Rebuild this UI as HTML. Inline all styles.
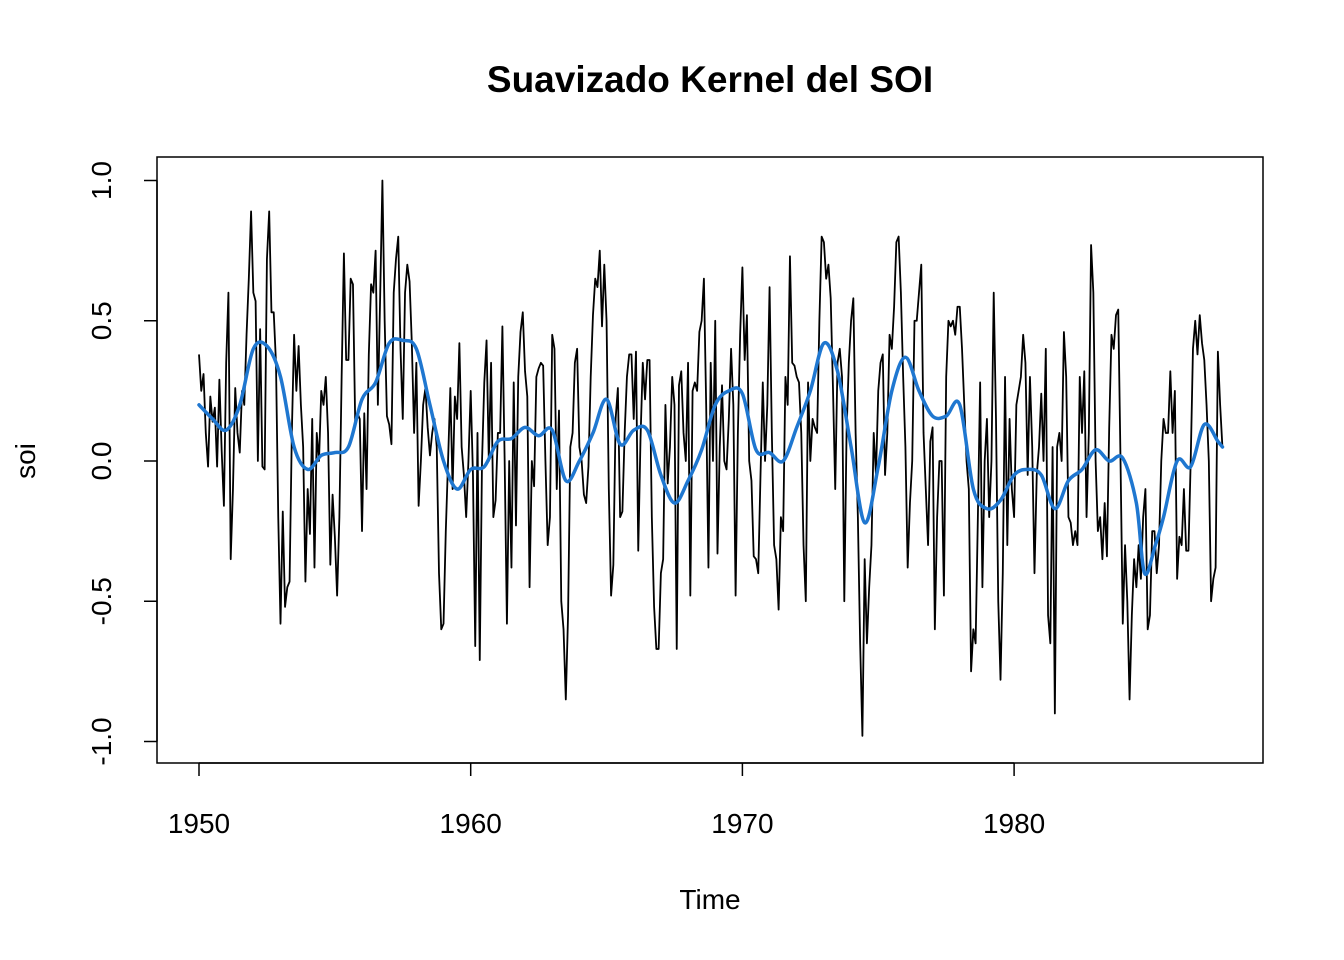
<!DOCTYPE html>
<html><head><meta charset="utf-8"><style>
body{margin:0;background:#fff;}
svg{display:block;font-family:"Liberation Sans",Arial,sans-serif;}
</style></head><body>
<svg id="chart" width="1344" height="960" viewBox="0 0 1344 960" xmlns="http://www.w3.org/2000/svg">
<rect width="1344" height="960" fill="#fff"/>
<text x="710" y="92" text-anchor="middle" font-size="37" font-weight="bold">Suavizado Kernel del SOI</text>
<rect x="157" y="157" width="1106" height="606" fill="none" stroke="#000" stroke-width="1.5"/>
<g id="xaxis"></g>
<g id="yaxis"></g>
<text x="710" y="909" text-anchor="middle" font-size="28">Time</text>
<text transform="translate(35,461) rotate(-90)" text-anchor="middle" font-size="28">soi</text>
<g id="series"></g>
</svg>
<script>
const startYear = 1950;
const soiValues = [
0.38,0.25,0.31,0.1,-0.02,0.23,0.14,0.19,-0.02,0.29,0.04,-0.16,
0.35,0.6,-0.35,-0.1,0.26,0.1,0.03,0.25,0.2,0.45,0.65,0.89,
0.6,0.57,0.0,0.47,-0.02,-0.03,0.72,0.89,0.53,0.53,0.35,-0.2,
-0.58,-0.18,-0.52,-0.45,-0.43,0.1,0.45,0.25,0.41,0.2,0.05,-0.43,
-0.1,-0.26,0.15,-0.38,0.1,0.0,0.25,0.2,0.3,0.1,-0.37,-0.12,
-0.27,-0.48,-0.2,0.3,0.74,0.36,0.36,0.65,0.63,0.13,0.17,0.15,
-0.25,0.17,-0.1,0.38,0.63,0.6,0.75,0.2,0.58,1.0,0.5,0.16,
0.13,0.06,0.6,0.72,0.8,0.4,0.15,0.6,0.7,0.64,0.42,0.1,
0.35,-0.16,0.0,0.2,0.26,0.12,0.02,0.1,0.15,0.05,-0.4,-0.6,
-0.58,-0.25,0.0,0.26,-0.1,0.23,0.15,0.42,0.05,-0.05,-0.2,0.0,
0.25,-0.05,-0.66,0.1,-0.71,0.0,0.28,0.43,0.0,0.35,-0.2,-0.14,
0.1,0.1,0.48,0.0,-0.58,0.0,-0.38,0.28,-0.23,0.3,0.46,0.53,
0.32,0.23,-0.45,0.0,-0.09,0.3,0.33,0.35,0.34,0.0,-0.3,-0.2,
0.45,0.4,-0.1,0.18,-0.5,-0.6,-0.85,-0.55,0.05,0.1,0.35,0.4,
0.05,0.0,-0.12,-0.15,-0.02,0.3,0.52,0.65,0.62,0.75,0.48,0.7,
0.5,-0.1,-0.48,-0.37,0.15,0.26,-0.2,-0.18,0.1,0.3,0.38,0.38,
0.15,0.39,-0.32,0.08,0.35,0.22,0.36,0.36,-0.2,-0.52,-0.67,-0.67,
-0.4,-0.35,0.2,-0.08,0.05,0.3,0.2,-0.67,0.27,0.32,0.1,0.0,
0.35,-0.48,0.25,0.28,0.25,0.46,0.5,0.65,0.2,-0.38,0.35,0.0,
0.5,-0.33,0.05,0.27,0.0,-0.03,0.15,0.4,0.2,-0.48,0.1,0.45,
0.69,0.36,0.52,0.0,-0.07,-0.34,-0.35,-0.4,-0.05,0.28,0.0,0.2,
0.62,0.1,-0.3,-0.35,-0.53,-0.2,-0.25,0.3,0.2,0.73,0.35,0.34,
0.3,0.28,0.1,-0.3,-0.5,0.28,0.0,0.15,0.12,0.1,0.5,0.8,
0.78,0.65,0.7,0.58,0.26,-0.1,0.35,0.4,0.3,-0.5,0.1,0.35,
0.5,0.58,0.1,-0.2,-0.65,-0.98,-0.35,-0.65,-0.45,-0.3,0.1,-0.05,
0.25,0.35,0.38,-0.05,0.1,0.45,0.4,0.55,0.78,0.8,0.6,0.3,
0.05,-0.38,-0.15,0.0,0.5,0.5,0.6,0.7,0.1,-0.1,-0.3,0.07,
0.12,-0.6,-0.2,0.0,0.0,-0.48,0.3,0.5,0.48,0.5,0.45,0.55,
0.55,0.4,0.2,0.0,-0.1,-0.75,-0.6,-0.65,-0.2,0.28,-0.45,0.0,
0.15,-0.2,0.0,0.6,0.15,-0.5,-0.78,-0.4,0.3,-0.3,0.15,-0.1,
-0.2,0.2,0.25,0.3,0.45,0.35,-0.05,0.3,0.05,-0.4,-0.05,0.05,
0.24,0.0,0.4,-0.55,-0.65,0.05,-0.9,0.05,0.1,0.0,0.46,0.3,
-0.2,-0.22,-0.3,-0.25,-0.3,0.3,0.1,0.32,-0.2,0.1,0.77,0.6,
0.0,-0.25,-0.2,-0.35,-0.15,-0.34,0.12,0.45,0.4,0.52,0.54,0.0,
-0.58,-0.3,-0.5,-0.85,-0.55,-0.35,-0.45,-0.3,-0.42,-0.2,-0.1,-0.6,
-0.55,-0.25,-0.25,-0.4,-0.3,0.0,0.15,0.1,0.1,0.32,0.1,0.25,
-0.42,-0.27,-0.3,-0.1,-0.32,-0.32,0.0,0.4,0.5,0.38,0.52,0.42,
0.36,0.2,0.0,-0.5,-0.42,-0.38,0.39,0.2,0.05
];
const smoothTimes = [1950,1950.5,1951,1951.5,1952,1952.5,1953,1953.5,1954,1954.5,1955,1955.5,1956,1956.5,1957,1957.5,1958,1958.5,1959,1959.5,1960,1960.5,1961,1961.5,1962,1962.5,1963,1963.5,1964,1964.5,1965,1965.5,1966,1966.5,1967,1967.5,1968,1968.5,1969,1969.5,1970,1970.5,1971,1971.5,1972,1972.5,1973,1973.5,1974,1974.5,1975,1975.5,1976,1976.5,1977,1977.5,1978,1978.5,1979,1979.5,1980,1980.5,1981,1981.5,1982,1982.5,1983,1983.5,1984,1984.5,1984.8,1985.2,1985.5,1986,1986.5,1987,1987.5,1987.67];
const smoothValues = [0.2,0.15,0.11,0.2,0.4,0.41,0.3,0.05,-0.03,0.02,0.03,0.05,0.22,0.28,0.42,0.43,0.4,0.2,0.0,-0.1,-0.03,-0.02,0.07,0.08,0.12,0.09,0.11,-0.07,0.0,0.1,0.22,0.06,0.11,0.11,-0.05,-0.15,-0.07,0.04,0.2,0.25,0.24,0.04,0.03,0.0,0.12,0.25,0.42,0.32,0.05,-0.22,-0.02,0.25,0.37,0.25,0.16,0.16,0.2,-0.1,-0.17,-0.14,-0.05,-0.03,-0.05,-0.17,-0.07,-0.03,0.04,0.0,0.01,-0.15,-0.4,-0.3,-0.2,0.0,-0.02,0.13,0.07,0.05];
const xTicks = [1950,1960,1970,1980];
const yTicks = [-1.0,-0.5,0.0,0.5,1.0];
const yTickLabels = ["-1.0","-0.5","0.0","0.5","1.0"];

const NS="http://www.w3.org/2000/svg";
function xScale(t){return 199 + (t-1950)*27.17;}
function yScale(v){return 461 - v*280.5;}
function mk(tag,attrs,parent){const e=document.createElementNS(NS,tag);for(const k in attrs)e.setAttribute(k,attrs[k]);parent.appendChild(e);return e;}

const xa=document.getElementById('xaxis');
mk('line',{x1:xScale(xTicks[0]),x2:xScale(xTicks[xTicks.length-1]),y1:763,y2:763,stroke:'#000','stroke-width':1.5},xa);
xTicks.forEach(t=>{
  const l=mk('line',{x1:xScale(t),x2:xScale(t),y1:763,y2:776,stroke:'#000','stroke-width':1.5},xa);
  
  
  const tx=mk('text',{x:xScale(t),y:833,'text-anchor':'middle','font-size':28},xa);
  tx.textContent=t;
  
  
});
const ya=document.getElementById('yaxis');
mk('line',{x1:157,x2:157,y1:yScale(1),y2:yScale(-1),stroke:'#000','stroke-width':1.5},ya);
yTicks.forEach((v,i)=>{
  const l=mk('line',{x1:144,x2:157,y1:yScale(v),y2:yScale(v),stroke:'#000','stroke-width':1.5},ya);
  
  
  const tx=mk('text',{transform:`translate(111,${yScale(v)}) rotate(-90)`,'text-anchor':'middle','font-size':28},ya);
  tx.textContent=yTickLabels[i];
  
  
});

const sg=document.getElementById('series');
const pts=soiValues.map((v,i)=>xScale(startYear+i/12).toFixed(2)+','+yScale(v).toFixed(2)).join(' ');
const raw=mk('polyline',{points:pts,fill:'none',stroke:'#000','stroke-width':1.8,'stroke-linejoin':'round'},sg);



const P=smoothTimes.map((t,i)=>[xScale(t),yScale(smoothValues[i])]);
let d='M'+P[0][0]+','+P[0][1];
for(let i=0;i<P.length-1;i++){
  const p0=P[Math.max(0,i-1)],p1=P[i],p2=P[i+1],p3=P[Math.min(P.length-1,i+2)];
  const c1=[p1[0]+(p2[0]-p0[0])/6,p1[1]+(p2[1]-p0[1])/6];
  const c2=[p2[0]-(p3[0]-p1[0])/6,p2[1]-(p3[1]-p1[1])/6];
  d+=` C${c1[0].toFixed(2)},${c1[1].toFixed(2)} ${c2[0].toFixed(2)},${c2[1].toFixed(2)} ${p2[0].toFixed(2)},${p2[1].toFixed(2)}`;
}
const sm=mk('path',{d:d,fill:'none',stroke:'#1f77d0','stroke-width':3.5,'stroke-linejoin':'round','stroke-linecap':'round'},sg);


</script>
</body></html>
